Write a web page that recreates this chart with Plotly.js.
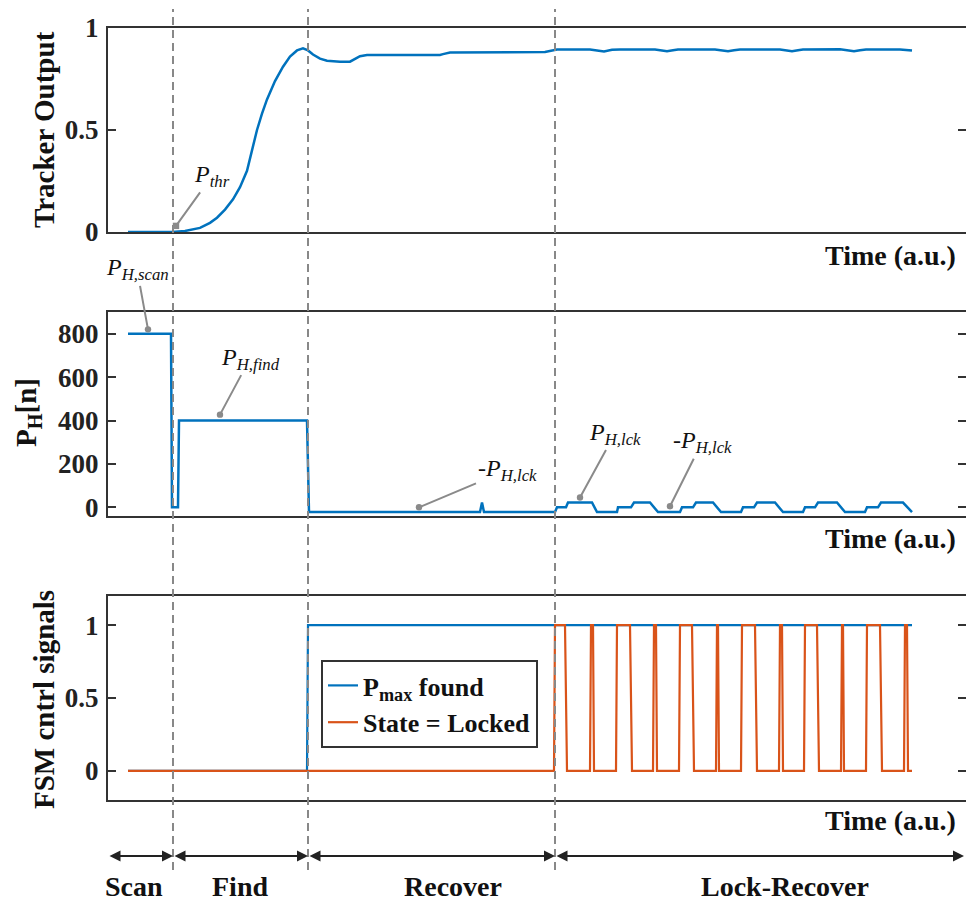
<!DOCTYPE html>
<html>
<head>
<meta charset="utf-8">
<script src="https://cdn.plot.ly/plotly-3.0.1.min.js"></script>
<style>html,body{margin:0;padding:0;background:#fff;}#chart{width:966px;height:901px;}</style>
</head>
<body>
<div id="chart"></div>
<script>
// ---- data (time in a.u.) ----
const trackerT = [20,64,77,92,102,109,117,125,132,139,144,149,154,159,167,175,182,189,195,200,205,212,219,232,242,246,252,259,332,335,342,437,444,449,482,489,496,504,512,547,553,559,565,570,607,614,620,626,632,672,678,684,690,695,732,739,746,752,758,792,804];
const trackerY = [0,0,0.005,0.02,0.045,0.07,0.11,0.16,0.22,0.30,0.40,0.50,0.58,0.65,0.74,0.81,0.86,0.89,0.90,0.89,0.87,0.85,0.84,0.835,0.835,0.845,0.862,0.868,0.868,0.872,0.88,0.882,0.89,0.895,0.895,0.89,0.885,0.893,0.895,0.895,0.891,0.886,0.891,0.895,0.895,0.891,0.886,0.891,0.895,0.895,0.891,0.886,0.891,0.895,0.896,0.891,0.886,0.891,0.895,0.895,0.89];

const phT = [20,63,64,70,71,199,201,372,374,376,447,449,458,460,484,489,509,510,523,526,542,550,572,574,585,588,605,613,633,635,646,649,667,675,695,697,707,710,729,737,757,759,770,773,795,804];
const phY = [800,800,0,0,400,400,-22,-22,22,-22,-22,0,0,22,22,-22,-22,0,0,22,22,-22,-22,0,0,22,22,-22,-22,0,0,22,22,-22,-22,0,0,22,22,-22,-22,0,0,22,22,-22];

const pmaxT = [20,199,200,804];
const pmaxY = [0,0,1,1];

const lockT = [20,446,447,457,459,482,483,485,486,508,509,522,524,545,546,548,549,571,572,584,586,608,609,610,611,633,634,647,649,671,672,674,675,696,697,709,711,733,734,735,736,758,759,772,774,796,797,799,800,804];
const lockY = [0,0,1,1,0,0,1,1,0,0,1,1,0,0,1,1,0,0,1,1,0,0,1,1,0,0,1,1,0,0,1,1,0,0,1,1,0,0,1,1,0,0,1,1,0,0,1,1,0,0];

const phaseBounds = [65, 200, 447];
const phaseNames = ['Scan', 'Find', 'Recover', 'Lock-Recover'];

const yTick1 = [0, 0.5, 1];          const yTickText1 = ['0', '0.5', '1'];
const yTick2 = [0, 200, 400, 600, 800];
const yTick3 = [0, 0.5, 1];          const yTickText3 = ['0', '0.5', '1'];

// ---- styling ----
const W = 966, H = 901;
const blue = '#0072BD', orange = '#D95319';
const serif = 'Liberation Serif, Times New Roman, serif';
const px = v => v / W;
const py = v => 1 - v / H;

const traces = [
  {x: trackerT, y: trackerY, xaxis: 'x', yaxis: 'y', mode: 'lines', line: {color: blue, width: 2.5}, showlegend: false},
  {x: phT, y: phY, xaxis: 'x2', yaxis: 'y2', mode: 'lines', line: {color: blue, width: 2.5}, showlegend: false},
  {x: pmaxT, y: pmaxY, xaxis: 'x3', yaxis: 'y3', mode: 'lines', line: {color: blue, width: 2.2}, name: 'P<sub>max</sub> found'},
  {x: lockT, y: lockY, xaxis: 'x3', yaxis: 'y3', mode: 'lines', line: {color: orange, width: 2.2}, name: 'State = Locked'}
];

const xRange = [0, 858];
const xBase = {range: xRange, domain: [px(108), 1], showticklabels: false, ticks: '', showgrid: false, zeroline: false,
  showline: true, mirror: true, linecolor: '#333', linewidth: 2};
const tickFont = {family: serif, size: 27, color: '#222', weight: 'bold'};
const yBase = {showgrid: false, zeroline: false, showline: true, mirror: 'ticks', linecolor: '#333', linewidth: 2,
  ticks: 'inside', ticklen: 8, tickwidth: 2, tickcolor: '#333', tickfont: tickFont, tickmode: 'array', ticklabelstandoff: 2};

const shapes = phaseBounds.map(b => ({type: 'line', xref: 'x3', yref: 'paper', x0: b, x1: b, y0: py(870), y1: py(9),
  line: {color: '#888', width: 2, dash: '8px,5px'}, layer: 'above'}));

const annotations = [];
const titleFont = {family: serif, size: 29, color: '#111', weight: 'bold'};
const timeFont = {family: serif, size: 28, color: '#111', weight: 'bold'};
// y axis titles
const yTitle = (x, y, text) => ({xref: 'paper', yref: 'paper', x: px(x), y: py(y), xanchor: 'center', yanchor: 'middle',
  text: text, textangle: -90, showarrow: false, font: titleFont});
annotations.push(yTitle(44, 130, 'Tracker Output'));
annotations.push(yTitle(28, 413, 'P<sub>H</sub>[n]'));
annotations.push(yTitle(44, 700, 'FSM cntrl signals'));
// time labels
[256, 538, 820].forEach(yy => annotations.push({xref: 'paper', yref: 'paper', x: px(958), y: py(yy), xanchor: 'right', yanchor: 'middle',
  text: 'Time (a.u.)', showarrow: false, font: timeFont}));
// pointer labels
const labFont = {family: serif, size: 24, color: '#111'};
const ptr = (xa, ya, x, y, ax, ay, text, head) => ({xref: xa, yref: ya, x: x, y: y, ax: ax, ay: ay, text: text, showarrow: true,
  arrowhead: head, arrowsize: 0.8, arrowwidth: 2, arrowcolor: '#8a8a8a', font: labFont, standoff: 0});
annotations.push(ptr('x', 'y', 68, 0.03, 36, -50, '<i>P</i><sub><i>thr</i></sub>', 7));
annotations.push(ptr('x2', 'y2', 40, 820, -11, -60, '<i>P</i><sub><i>H,scan</i></sub>', 6));
annotations.push(ptr('x2', 'y2', 112, 427, 30, -56, '<i>P</i><sub><i>H,find</i></sub>', 6));
annotations.push(ptr('x2', 'y2', 311, 0, 88, -37, '<i>-P</i><sub><i>H,lck</i></sub>', 6));
annotations.push(ptr('x2', 'y2', 472, 45, 35, -64, '<i>P</i><sub><i>H,lck</i></sub>', 6));
annotations.push(ptr('x2', 'y2', 562, 5, 32, -64, '<i>-P</i><sub><i>H,lck</i></sub>', 6));
// phase arrows
const edges = [0].concat(phaseBounds).concat([856]);
for (let i = 0; i < phaseNames.length; i++) {
  annotations.push({xref: 'x3', yref: 'paper', x: edges[i + 1], y: py(856), axref: 'x3', ayref: 'pixel', ax: edges[i], ay: 0,
    text: '', showarrow: true, arrowside: 'end+start', arrowhead: 2, arrowsize: 1.1, arrowwidth: 2, arrowcolor: '#222'});
}
const labelX = [26, 132, 345, 677];
phaseNames.forEach((n, i) => annotations.push({xref: 'x3', yref: 'paper', x: labelX[i], y: py(886), xanchor: 'center', yanchor: 'middle',
  text: n, showarrow: false, font: timeFont}));

const layout = {
  width: W, height: H, margin: {l: 0, r: 0, t: 0, b: 0}, paper_bgcolor: '#fff', plot_bgcolor: '#fff',
  xaxis: Object.assign({}, xBase, {anchor: 'y'}),
  xaxis2: Object.assign({}, xBase, {anchor: 'y2'}),
  xaxis3: Object.assign({}, xBase, {anchor: 'y3'}),
  yaxis: Object.assign({}, yBase, {anchor: 'x', domain: [py(232), py(28)], range: [0, 1], tickvals: yTick1, ticktext: yTickText1}),
  yaxis2: Object.assign({}, yBase, {anchor: 'x2', domain: [py(516), py(312)], range: [-40, 900], tickvals: yTick2, ticktext: yTick2.map(String)}),
  yaxis3: Object.assign({}, yBase, {anchor: 'x3', domain: [py(800), py(596)], range: [-0.2, 1.2], tickvals: yTick3, ticktext: yTickText3}),
  legend: {x: px(321), y: py(660), xanchor: 'left', yanchor: 'top', bgcolor: '#fff', bordercolor: '#333', borderwidth: 2,
    font: {family: serif, size: 26, color: '#111', weight: 'bold'}, tracegroupgap: 0},
  shapes: shapes,
  annotations: annotations
};

Plotly.newPlot('chart', traces, layout, {staticPlot: true});
</script>
</body>
</html>
